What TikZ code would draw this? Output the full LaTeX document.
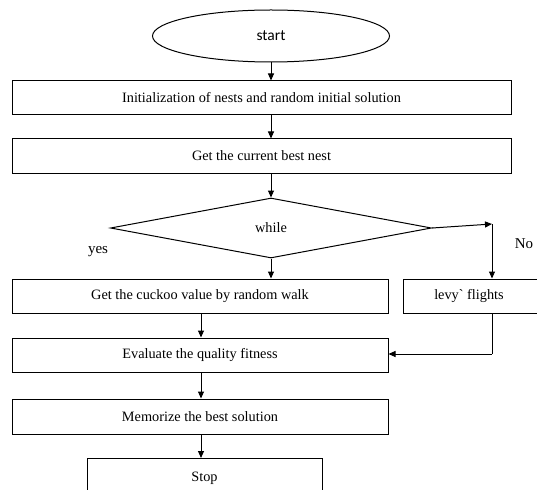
\documentclass[tikz,border=0pt]{standalone}
\usepackage{fontspec}
\setmainfont{Liberation Serif}
\newfontfamily\calib{Carlito}
\usetikzlibrary{arrows.meta,shapes.geometric}
\begin{document}
\begin{tikzpicture}[x=1pt,y=-1pt,
  every node/.style={font=\fontsize{14.3}{16}\selectfont},
  box/.style={draw,line width=1pt,rectangle,inner sep=0pt,anchor=center},
  conn/.style={line width=1pt,-{Triangle[length=7pt,width=6pt]}},
  plain/.style={line width=1pt}]
\useasboundingbox (0,0) rectangle (537,489);
\fill[white] (0,0) rectangle (537,489);
\begin{scope}
\clip (0,0) rectangle (537,489);
\node[draw,line width=1pt,ellipse,minimum width=237pt,minimum height=52pt,inner sep=0pt,font=\calib\fontsize{15.5}{17}\selectfont] (start) at (271,36) {start};
\node[box,minimum width=499pt,minimum height=34pt] (init) at (261.5,98) {Initialization of nests and random initial solution};
\node[box,minimum width=499pt,minimum height=34pt] (best) at (261.5,156) {Get the current best nest};
\node[draw,line width=1pt,diamond,aspect=5.35,minimum width=321pt,minimum height=60pt,inner sep=0pt] (while) at (271,228) {while};
\node[box,minimum width=376pt,minimum height=34pt] (cuckoo) at (200,296) {Get the cuckoo value by random walk};
\node[box,minimum width=140pt,minimum height=34pt] (levy) at (473,296) {};
\node (levytext) at (469,296) {levy\textasciigrave{} flights};
\node[box,minimum width=376pt,minimum height=34pt] (eval) at (200,355) {Evaluate the quality fitness};
\node[box,minimum width=376pt,minimum height=35pt] (memo) at (200,416.5) {Memorize the best solution};
\node[box,minimum width=235pt,minimum height=42pt,anchor=north west,text height=0pt] (stop) at (87,458) {};
\node (stoptext) at (204.5,478) {Stop};
\node[font=\fontsize{15}{17}\selectfont] (yes) at (98,252) {yes};
\node[font=\fontsize{15}{17}\selectfont] (no) at (524,244) {No};
\coordinate (turn) at (492,224);
\coordinate (back) at (492,354);
\draw[conn] (start.south) -- (init.north -| start.south);
\draw[conn] (init.south -| best.north) ++(9.5,0) coordinate (a1) -- (a1 |- best.north);
\draw[conn] (best.south) ++(9.5,0) coordinate (a2) -- (while.north);
\draw[conn] (while.east) -- (turn);
\draw[conn] (turn) -- (turn |- levy.north);
\draw[conn] (while.south) -- (while.south |- cuckoo.north);
\draw[conn] (cuckoo.south) ++(1,0) coordinate (a3) -- (a3 |- eval.north);
\draw[plain] (levy.south -| turn) -- (back);
\draw[conn] (back) -- (back -| eval.east);
\draw[conn] (eval.south) ++(1,0) coordinate (a4) -- (a4 |- memo.north);
\draw[conn] (memo.south) ++(1,0) coordinate (a5) -- (a5 |- stop.north);
\end{scope}
\end{tikzpicture}
\end{document}
